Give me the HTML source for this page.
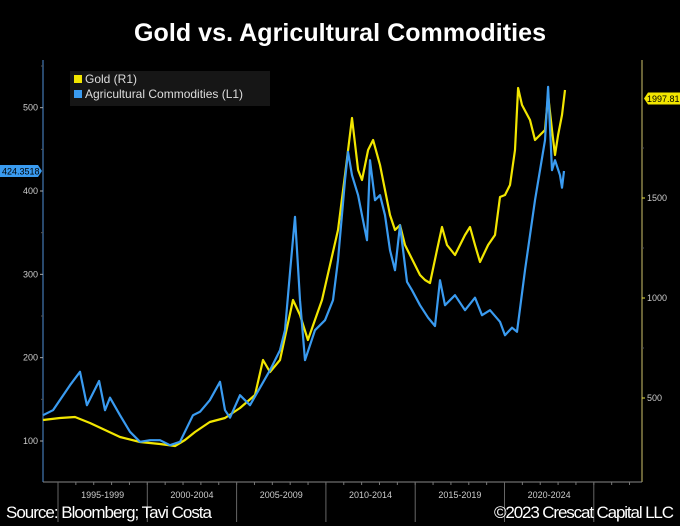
<!DOCTYPE html>
<html><head><meta charset="utf-8"><style>
html,body{margin:0;padding:0;background:#000;}
svg{display:block;font-family:"Liberation Sans",sans-serif;}
</style></head><body>
<svg id="chart" width="680" height="526" viewBox="0 0 680 526">
<rect x="0" y="0" width="680" height="526" fill="#000"/>
<text x="340" y="41" text-anchor="middle" fill="#fff" font-size="25" font-weight="bold" textLength="412">Gold vs. Agricultural Commodities</text>
<g id="axes"></g>
<g id="series"></g>
<g>
<rect x="70" y="71" width="200" height="35" fill="#161616"/>
<rect x="74" y="75" width="8" height="8" fill="#f2e600"/>
<text x="85" y="83" fill="#ddd" font-size="12">Gold (R1)</text>
<rect x="74" y="90" width="8" height="8" fill="#3a9bf0"/>
<text x="85" y="98" fill="#ddd" font-size="12">Agricultural Commodities (L1)</text>
</g>
<text x="6" y="518" fill="#fff" font-size="17" textLength="206">Source: Bloomberg; Tavi Costa</text>
<text x="674" y="518" text-anchor="end" fill="#fff" font-size="17" textLength="180">©2023 Crescat Capital LLC</text>
</svg>
<script>
const agYears=[1994.16,1994.72,1995.67,1996.23,1996.62,1997.30,1997.63,1997.91,1998.47,1999.03,1999.59,2000.15,2000.71,2001.27,2001.83,2002.56,2002.95,2003.5,2004.07,2004.35,2004.63,2005.19,2005.75,2006.31,2006.87,2007.43,2007.71,2008.0,2008.27,2008.55,2008.83,2009.39,2009.95,2010.4,2010.68,2011.07,2011.24,2011.46,2011.8,2012.02,2012.3,2012.47,2012.75,2013.03,2013.31,2013.59,2013.87,2014.15,2014.54,2014.82,2015.27,2015.72,2016.11,2016.39,2016.67,2017.23,2017.79,2018.35,2018.74,2019.19,2019.75,2020.03,2020.42,2020.7,2021.15,2021.43,2021.71,2021.99,2022.27,2022.44,2022.66,2022.83,2023.11,2023.22,2023.33];
const agValues=[131,137,167,183,143,172,137,152,131,111,99,101,101,95,99,131,135,149,171,137,128,155,143,164,185,209,233,305,369,269,197,233,245,269,317,413,447,419,395,371,341,437,389,395,371,329,305,359,291,281,263,248,238,293,263,275,257,272,251,257,243,227,236,231,305,347,389,425,461,525,425,437,419,404,424];
const goldYears=[1994.16,1995.11,1995.95,1996.79,1997.63,1998.47,1999.59,2000.71,2001.55,2002.11,2002.67,2003.5,2004.35,2005.19,2006.03,2006.48,2006.87,2007.43,2008.16,2008.55,2008.99,2009.78,2010.23,2010.68,2011.07,2011.46,2011.8,2012.02,2012.36,2012.64,2013.03,2013.31,2013.59,2013.87,2014.15,2014.43,2014.71,2014.99,2015.27,2015.55,2015.83,2016.22,2016.5,2016.78,2017.23,2017.79,2018.07,2018.35,2018.63,2019.08,2019.47,2019.75,2020.03,2020.31,2020.59,2020.76,2020.98,2021.43,2021.71,2021.99,2022.27,2022.44,2022.66,2022.83,2023.0,2023.22,2023.39];
const goldValues=[390,400,405,375,340,305,280,270,260,290,330,380,400,450,515,690,630,690,990,915,790,990,1165,1340,1615,1900,1640,1590,1740,1790,1665,1540,1415,1340,1365,1265,1215,1165,1115,1090,1075,1240,1355,1265,1215,1315,1355,1265,1180,1265,1315,1505,1515,1565,1740,2050,1965,1890,1790,1815,1840,2015,1840,1715,1815,1915,2040];
const leftTicks=[100,200,300,400,500];
const rightTicks=[500,1000,1500];
const periods=["1995-1999","2000-2004","2005-2009","2010-2014","2015-2019","2020-2024"];
const agLast="424.3518", goldLast="1997.81";

const NS="http://www.w3.org/2000/svg";
const X0=43,X1=642,Y0=60,Y1=482;
const xS=y=>X0+(y-1994.16)*17.86;
const yL=v=>441-(v-100)*0.8333;
const yR=v=>398-(v-500)*0.2;
function mk(tag,attrs,parent){const e=document.createElementNS(NS,tag);for(const k in attrs)e.setAttribute(k,attrs[k]);parent.appendChild(e);return e;}
const axes=document.getElementById('axes'), series=document.getElementById('series');

let e=mk('line',{x1:X0,y1:Y0,x2:X0,y2:Y1,stroke:'#35608f','stroke-width':1.5},axes);


e=mk('line',{x1:X1,y1:Y0,x2:X1,y2:Y1,stroke:'#8a8248','stroke-width':1.5},axes);


e=mk('line',{x1:X0,y1:Y1,x2:X1,y2:Y1,stroke:'#888','stroke-width':1},axes);



leftTicks.forEach(v=>{
  mk('line',{x1:X0-3,y1:yL(v),x2:X0,y2:yL(v),stroke:'#aaa'},axes);
  mk('line',{x1:X0-2,y1:yL(v+50),x2:X0,y2:yL(v+50),stroke:'#555'},axes);
  const t=mk('text',{x:X0-5,y:yL(v)+3,'text-anchor':'end',fill:'#ccc','font-size':9},axes);
  t.textContent=v;
  
  
});
rightTicks.forEach(v=>{
  mk('line',{x1:X1,y1:yR(v),x2:X1+3,y2:yR(v),stroke:'#e8e040'},axes);
  mk('line',{x1:X1,y1:yR(v+250),x2:X1+2,y2:yR(v+250),stroke:'#555'},axes);
  const t=mk('text',{x:X1+5,y:yR(v)+3,fill:'#ccc','font-size':9},axes);
  t.textContent=v;
  
  
});
for(let yr=1995;yr<=2027;yr++){mk('line',{x1:xS(yr),y1:Y1,x2:xS(yr),y2:Y1+3,stroke:'#777'},axes);}
periods.forEach((p,i)=>{
  const a=1995+i*5;
  mk('line',{x1:xS(a),y1:Y1,x2:xS(a),y2:522,stroke:'#666'},axes);
  const t=mk('text',{x:xS(a+2.5),y:498,'text-anchor':'middle',fill:'#ccc','font-size':9},axes);
  t.textContent=p;
  
  
});
mk('line',{x1:xS(2025),y1:Y1,x2:xS(2025),y2:522,stroke:'#666'},axes);

function path(xs,vs,sc){return xs.map((x,i)=>(i?'L':'M')+xS(x).toFixed(1)+','+sc(vs[i]).toFixed(1)).join('');}
e=mk('path',{d:path(goldYears,goldValues,yR),fill:'none',stroke:'#f2e600','stroke-width':2.2,'stroke-linejoin':'round'},series);


e=mk('path',{d:path(agYears,agValues,yL),fill:'none',stroke:'#3a9bf0','stroke-width':2.2,'stroke-linejoin':'round'},series);



const ly=yL(agValues[agValues.length-1]);
e=mk('path',{d:`M0,${ly-6}H38L42,${ly}L38,${ly+6}H0Z`,fill:'#3a9bf0'},axes);


e=mk('text',{x:2,y:ly+3.5,fill:'#000','font-size':9},axes);
e.textContent=agLast;


const gy=yR(1997.81);
e=mk('path',{d:`M644,${gy}L648,${gy-6}H680V${gy+6}H648Z`,fill:'#f2e600'},axes);


e=mk('text',{x:647,y:gy+3.5,fill:'#000','font-size':9},axes);
e.textContent=goldLast;


</script>
</body></html>
